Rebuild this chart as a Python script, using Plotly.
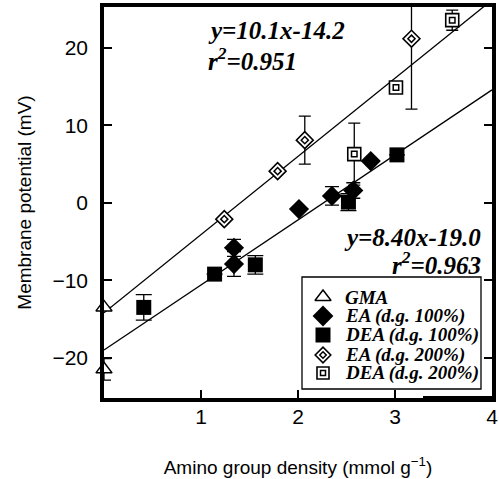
import plotly.graph_objects as go

# ---------------- data ----------------
gma_x = [0.0, 0.0]
gma_y = [-13.5, -21.5]
gma_err = [0.0, 1.4]

ea100_x = [1.34, 1.34, 2.01, 2.35, 2.57, 2.75]
ea100_y = [-5.8, -7.9, -0.8, 0.9, 1.6, 5.4]
ea100_err = [1.1, 1.6, 0.0, 1.2, 1.0, 0.0]

dea100_x = [0.41, 1.14, 1.56, 2.52, 3.02]
dea100_y = [-13.5, -9.2, -8.0, 0.1, 6.2]
dea100_err = [1.65, 0.0, 1.2, 1.1, 0.0]

ea200_x = [1.24, 1.79, 2.07, 3.17]
ea200_y = [-2.1, 4.1, 8.1, 21.2]
ea200_err = [0.0, 0.0, 3.1, 9.1]

dea200_x = [2.58, 3.01, 3.59]
dea200_y = [6.3, 14.9, 23.6]
dea200_err = [4.0, 0.0, 1.3]

fit_slope = [10.1, 8.40]
fit_intercept = [-14.2, -19.0]
fit_x = [0.0, 4.0]

legend_labels = ["GMA", "EA (d.g. 100%)", "DEA (d.g. 100%)", "EA (d.g. 200%)", "DEA (d.g. 200%)"]
eq_upper = ["y=10.1x-14.2", "r<sup>2</sup>=0.951"]
eq_lower = ["y=8.40x-19.0", "r<sup>2</sup>=0.963"]

x_ticks = [1, 2, 3, 4]
y_ticks = [-20, -10, 0, 10, 20]

# ---------------- figure ----------------
W, H = 499, 479
ML, MR, MT, MB = 104, 7, 7, 81
PW, PH = W - ML - MR, H - MT - MB


def px2paper_x(px):
    return (px - ML) / PW


def px2paper_y(py):
    return (H - MB - py) / PH


fig = go.Figure()

# regression lines
for m, b in zip(fit_slope, fit_intercept):
    fig.add_trace(go.Scatter(
        x=fit_x, y=[m * xx + b for xx in fit_x], mode="lines",
        line=dict(color="black", width=1.3), showlegend=False, hoverinfo="skip"))


def err(arr, width=7):
    return dict(type="data", array=arr, visible=True, color="black",
                thickness=1.3, width=width)


BLK = "black"
WHT = "white"

# EA 200 (double diamond)
fig.add_trace(go.Scatter(x=ea200_x, y=ea200_y, mode="markers", error_y=err(ea200_err, 6),
                         marker=dict(symbol="diamond", size=13, color=WHT,
                                     line=dict(color=BLK, width=1.6)), showlegend=False))
fig.add_trace(go.Scatter(x=ea200_x, y=ea200_y, mode="markers",
                         marker=dict(symbol="diamond", size=5.5, color=WHT,
                                     line=dict(color=BLK, width=1.5)), showlegend=False))
# DEA 200 (double square)
fig.add_trace(go.Scatter(x=dea200_x, y=dea200_y, mode="markers", error_y=err(dea200_err, 6),
                         marker=dict(symbol="square", size=13, color=WHT,
                                     line=dict(color=BLK, width=1.6)), showlegend=False))
fig.add_trace(go.Scatter(x=dea200_x, y=dea200_y, mode="markers",
                         marker=dict(symbol="square", size=5.5, color=WHT,
                                     line=dict(color=BLK, width=1.5)), showlegend=False))
# DEA 100 (filled square)
fig.add_trace(go.Scatter(x=dea100_x, y=dea100_y, mode="markers", error_y=err(dea100_err, 8),
                         marker=dict(symbol="square", size=15, color=BLK,
                                     line=dict(color=BLK, width=0)), showlegend=False))
# EA 100 (filled diamond)
fig.add_trace(go.Scatter(x=ea100_x, y=ea100_y, mode="markers", error_y=err(ea100_err, 7),
                         marker=dict(symbol="diamond", size=15.5, color=BLK,
                                     line=dict(color=BLK, width=0)), showlegend=False))
# GMA (open triangle)
fig.add_trace(go.Scatter(x=gma_x, y=gma_y, mode="markers", error_y=err(gma_err, 7),
                         cliponaxis=False,
                         marker=dict(symbol="triangle-up", size=14, color=WHT,
                                     line=dict(color=BLK, width=1.5)), showlegend=False))

# ---------------- custom legend (on an overlay axis pair in [0,1]) ----------------
box_l, box_r = px2paper_x(302), px2paper_x(481)
box_t, box_b = px2paper_y(277), px2paper_y(389)
fig.add_shape(type="rect", xref="paper", yref="paper", x0=box_l, x1=box_r, y0=box_b, y1=box_t,
              line=dict(color="black", width=1.3), fillcolor="rgba(0,0,0,0)", layer="above")

# heavy "shadow" segment of the frame at the lower right, as in the reference
fig.add_shape(type="rect", xref="paper", yref="paper",
              x0=px2paper_x(423), x1=px2paper_x(494), y0=px2paper_y(401), y1=px2paper_y(396),
              line=dict(width=0), fillcolor="black", layer="above")

row_px = [297, 316, 335, 355, 373]
rows = [px2paper_y(p) for p in row_px]
sym_x = px2paper_x(323)
txt_x = px2paper_x(343)

leg_specs = [
    [dict(symbol="triangle-up", size=14, color=WHT, line=dict(color=BLK, width=1.5))],
    [dict(symbol="diamond", size=16, color=BLK, line=dict(color=BLK, width=0))],
    [dict(symbol="square", size=15, color=BLK, line=dict(color=BLK, width=0))],
    [dict(symbol="diamond", size=12, color=WHT, line=dict(color=BLK, width=1.6)),
     dict(symbol="diamond", size=5, color=WHT, line=dict(color=BLK, width=1.5))],
    [dict(symbol="square", size=12, color=WHT, line=dict(color=BLK, width=1.6)),
     dict(symbol="square", size=5, color=WHT, line=dict(color=BLK, width=1.5))],
]
for ry, specs, lab in zip(rows, leg_specs, legend_labels):
    for spec in specs:
        fig.add_trace(go.Scatter(x=[sym_x], y=[ry], xaxis="x2", yaxis="y2", mode="markers",
                                 marker=spec, showlegend=False, hoverinfo="skip", cliponaxis=False))
    fig.add_annotation(xref="paper", yref="paper", x=txt_x, y=ry, text="<b><i>%s</i></b>" % lab,
                       showarrow=False, xanchor="left", yanchor="middle",
                       font=dict(family="Liberation Serif", size=19, color="black"))

# ---------------- equations ----------------
EQF = dict(family="Liberation Serif", size=25, color="black")
fig.add_annotation(xref="paper", yref="paper", x=px2paper_x(206), y=px2paper_y(31),
                   text="<b><i>%s</i></b>" % eq_upper[0], showarrow=False,
                   xanchor="left", yanchor="middle", font=EQF)
fig.add_annotation(xref="paper", yref="paper", x=px2paper_x(206), y=px2paper_y(59),
                   text="<b><i>%s</i></b>" % eq_upper[1], showarrow=False,
                   xanchor="left", yanchor="middle", font=EQF)
fig.add_annotation(xref="paper", yref="paper", x=px2paper_x(483), y=px2paper_y(237),
                   text="<b><i>%s</i></b>" % eq_lower[0], showarrow=False,
                   xanchor="right", yanchor="middle", font=EQF)
fig.add_annotation(xref="paper", yref="paper", x=px2paper_x(483), y=px2paper_y(263),
                   text="<b><i>%s</i></b>" % eq_lower[1], showarrow=False,
                   xanchor="right", yanchor="middle", font=EQF)

AXF = dict(family="Liberation Sans", size=21, color="black")
TTF = dict(family="Liberation Sans", size=19, color="black")
fig.update_layout(
    template="none",
    width=W, height=H,
    margin=dict(l=ML, r=MR, t=MT, b=MB),
    paper_bgcolor="white", plot_bgcolor="white",
    showlegend=False,
    xaxis=dict(range=[0, 4], tickvals=x_ticks, ticktext=[str(t) for t in x_ticks],
               ticks="inside", ticklen=8, tickwidth=1.5, tickcolor="black",
               showline=True, linecolor="black", linewidth=3.5, mirror=True,
               showgrid=False, zeroline=False, tickfont=AXF, automargin=False,
               ticklabelstandoff=-3,
               title=dict(text="Amino group density (mmol g<sup>\u22121</sup>)", font=TTF, standoff=35)),
    yaxis=dict(range=[-25.2, 25.3], tickvals=y_ticks,
               ticks="inside", ticklen=8, tickwidth=1.5, tickcolor="black",
               showline=True, linecolor="black", linewidth=3.5, mirror="ticks",
               showgrid=False, zeroline=False, tickfont=AXF, ticklabelstandoff=8,
               automargin=False,
               title=dict(text="Membrane potential (mV)", font=TTF, standoff=17)),
    xaxis2=dict(range=[0, 1], overlaying="x", visible=False, fixedrange=True),
    yaxis2=dict(range=[0, 1], overlaying="y", visible=False, fixedrange=True),
)

fig.write_html("out.html", config={"displayModeBar": False},
               post_script="document.body.style.margin='0px';")
